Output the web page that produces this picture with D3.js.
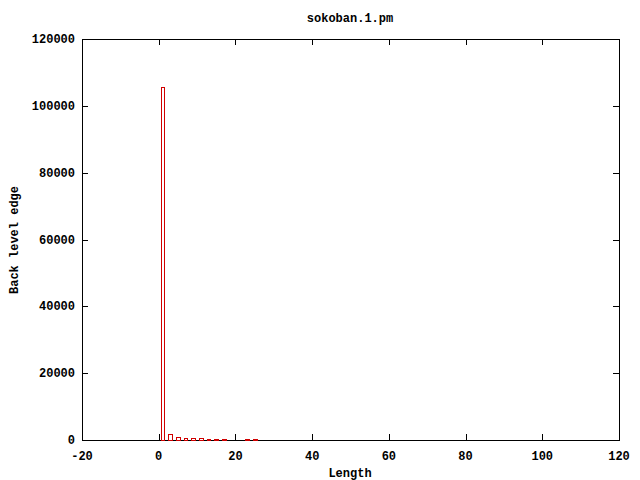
<!DOCTYPE html>
<html>
<head>
<meta charset="utf-8">
<script src="https://cdn.jsdelivr.net/npm/d3@7"></script>
<style>
body { margin: 0; background: #fff; }
text { font-family: "Liberation Mono", "DejaVu Sans Mono", monospace; font-weight: bold; font-size: 12px; fill: #000; }
</style>
</head>
<body>
<div id="viz"></div>
<script>
// histogram of back level edge lengths
var lengths = [1, 3, 5, 7, 9, 11, 13, 15, 17, 23, 25];
var counts  = [105500, 1800, 900, 500, 500, 500, 200, 300, 200, 200, 200];
var xTicks  = [-20, 0, 20, 40, 60, 80, 100, 120];
var yTicks  = [0, 20000, 40000, 60000, 80000, 100000, 120000];

var pLeft = 82, pRight = 619, pTop = 39, pBottom = 440;
var tick = 6;

var svg = d3.select("#viz")
    .append("svg")
    .attr("width", 640)
    .attr("height", 480);

var x = d3.scaleLinear().domain([-20, 120]).range([pLeft, pRight]);
var y = d3.scaleLinear().domain([0, 120000]).range([pBottom, pTop]);

// ticks (inward, mirrored)
var g = svg.append("g").attr("stroke", "#000").attr("stroke-width", 1);
xTicks.forEach(function(t) {
  var px = Math.round(x(t)) + 0.5;
  g.append("line").attr("x1", px).attr("x2", px).attr("y1", pBottom).attr("y2", pBottom - tick);
  g.append("line").attr("x1", px).attr("x2", px).attr("y1", pTop).attr("y2", pTop + tick);
});
yTicks.forEach(function(t) {
  var py = Math.round(y(t)) + 0.5;
  g.append("line").attr("x1", pLeft).attr("x2", pLeft + tick).attr("y1", py).attr("y2", py);
  g.append("line").attr("x1", pRight).attr("x2", pRight - tick).attr("y1", py).attr("y2", py);
});

// border
svg.append("rect")
    .attr("x", pLeft + 0.5).attr("y", pTop + 0.5)
    .attr("width", pRight - pLeft).attr("height", pBottom - pTop)
    .style("fill", "none").style("stroke", "#000");

// bars (unfilled boxes, width 1), drawn on top
svg.selectAll("rect.bar")
    .data(lengths)
    .enter()
    .append("rect")
    .attr("class", "bar")
    .attr("x", function(d) { return Math.round(x(d - 0.5)) + 0.5; })
    .attr("width", function(d) { return Math.round(x(d + 0.5)) - Math.round(x(d - 0.5)); })
    .attr("y", function(d, i) { return Math.round(y(counts[i])) + 0.5; })
    .attr("height", function(d, i) { return pBottom - Math.round(y(counts[i])); })
    .style("fill", "none")
    .style("stroke", "#d00000")
    .style("stroke-width", 1);

// tick labels
svg.selectAll("text.xt")
    .data(xTicks)
    .enter()
    .append("text")
    .attr("x", function(d) { return x(d); })
    .attr("y", 460)
    .attr("text-anchor", "middle")
    .text(function(d) { return d; });

svg.selectAll("text.yt")
    .data(yTicks)
    .enter()
    .append("text")
    .attr("x", 75)
    .attr("y", function(d) { return y(d) + 4; })
    .attr("text-anchor", "end")
    .text(function(d) { return d; });

// titles
svg.append("text").attr("x", 350).attr("y", 22).attr("text-anchor", "middle").text("sokoban.1.pm");
svg.append("text").attr("x", 350).attr("y", 477).attr("text-anchor", "middle").text("Length");
svg.append("text")
    .attr("transform", "translate(18,240) rotate(-90)")
    .attr("text-anchor", "middle")
    .text("Back level edge");
</script>
</body>
</html>
